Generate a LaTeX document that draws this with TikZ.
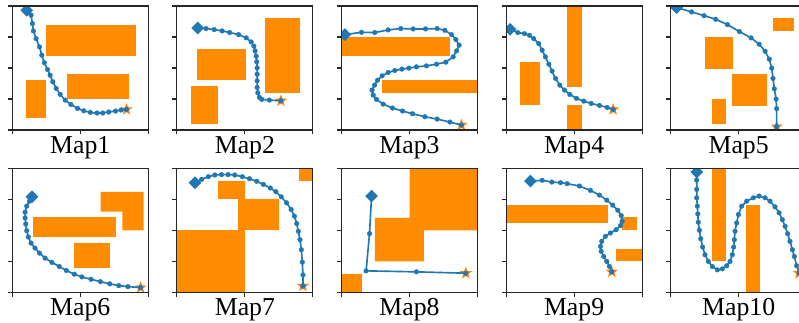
\documentclass[tikz,border=0pt]{standalone}
\usepackage{fontspec}
\setmainfont{Liberation Serif}
\usetikzlibrary{shapes.geometric}
\definecolor{pathblue}{RGB}{31,119,180}
\definecolor{goalorange}{RGB}{255,127,14}
\definecolor{obstorange}{RGB}{255,140,0}
\tikzset{
  obstacle/.style={fill=obstorange},
  traj/.style={pathblue, line width=1.4pt, mark=*, mark size=2pt, mark options={fill=pathblue, line width=0.3pt}},
  start/.style={diamond, fill=pathblue, inner sep=0pt, minimum size=11pt},
  goal/.style={star, star points=5, star point ratio=2.4, fill=goalorange, inner sep=0pt, minimum size=11pt},
  frame/.style={black!85, line width=1pt},
  maplabel/.style={anchor=base, font=\fontsize{22}{25}\selectfont},
  map/.style 2 args={shift={(#1,#2)}, x=0.408cm, y=0.372cm},
}

\begin{document}
\begin{tikzpicture}[x=0.03cm, y=0.03cm]
\path[use as bounding box, clip] (0,0) rectangle (799,322);

% Map1
\begin{scope}[map={12.3}{192}]
\clip (0,0) rectangle (10,10);
\fill[obstacle] (2.5,6) rectangle (9.1,8.5);
\fill[obstacle] (4,2.5) rectangle (8.6,4.5);
\fill[obstacle] (1,1) rectangle (2.5,4);
\node[goal] (goal1) at (8.4,1.66) {};
\draw[traj] plot coordinates {(1.06,9.65) (1.38,9.26) (1.48,8.58) (1.55,7.99) (1.75,7.37) (2.0,6.7) (2.17,6.03) (2.36,5.42) (2.59,4.88) (2.78,4.42) (2.98,3.89) (3.23,3.35) (3.52,2.87) (3.89,2.41) (4.31,2.06) (4.8,1.74) (5.25,1.55) (5.74,1.42) (6.23,1.37) (6.65,1.37) (7.09,1.45) (7.59,1.53) (8.0,1.61) (8.4,1.66)};
\node[start] (start1) at (1.06,9.65) {};
\end{scope}

% Map2
\begin{scope}[map={176.9}{192}]
\clip (0,0) rectangle (10,10);
\fill[obstacle] (6.5,3) rectangle (9.05,9.05);
\fill[obstacle] (1.5,4) rectangle (5.05,6.5);
\fill[obstacle] (1,0.5) rectangle (3,3.55);
\node[goal] (goal2) at (7.65,2.36) {};
\draw[traj] plot coordinates {(1.53,8.23) (2.14,8.18) (2.74,8.1) (3.33,7.99) (3.88,7.86) (4.54,7.69) (5.1,7.43) (5.46,7.1) (5.66,6.76) (5.75,6.38) (5.83,5.95) (5.87,5.5) (5.9,5.01) (5.9,4.5) (5.9,3.97) (5.9,3.43) (5.95,3.0) (6.07,2.63) (6.24,2.47) (6.8,2.41) (7.65,2.36)};
\node[start] (start2) at (1.53,8.23) {};
\end{scope}

% Map3
\begin{scope}[map={341.5}{192}]
\clip (0,0) rectangle (10,10);
\fill[obstacle] (0,6) rectangle (8,7.5);
\fill[obstacle] (3,3) rectangle (10,4);
\node[goal] (goal3) at (8.82,0.4) {};
\draw[traj] plot coordinates {(0.25,7.69) (1.47,7.88) (2.45,7.86) (3.43,8.07) (4.36,8.18) (5.27,8.15) (6.18,8.15) (7.03,8.18) (7.6,8.04) (8.09,7.69) (8.41,7.29) (8.65,6.84) (8.46,6.38) (8.21,5.9) (7.67,5.47) (6.99,5.31) (6.25,5.17) (5.51,5.09) (4.95,4.99) (4.44,4.91) (3.92,4.8) (3.43,4.64) (2.99,4.37) (2.65,4.02) (2.43,3.62) (2.25,3.22) (2.33,2.82) (2.57,2.47) (3.06,2.09) (3.75,1.77) (4.49,1.53) (5.22,1.31) (6.13,1.07) (7.03,0.88) (7.97,0.64) (8.82,0.4)};
\node[start] (start3) at (0.25,7.69) {};
\end{scope}

% Map4
\begin{scope}[map={506.1}{192}]
\clip (0,0) rectangle (10,10);
\fill[obstacle] (4.5,3.5) rectangle (5.55,10);
\fill[obstacle] (4.5,0) rectangle (5.55,2);
\fill[obstacle] (1,2) rectangle (2.5,5.5);
\node[goal] (goal4) at (7.87,1.66) {};
\draw[traj] plot coordinates {(0.29,8.12) (0.86,7.86) (1.35,7.77) (1.72,7.64) (2.03,7.37) (2.4,6.97) (2.65,6.43) (2.89,5.9) (3.14,5.31) (3.38,4.75) (3.63,4.16) (3.95,3.62) (4.29,3.22) (4.68,2.87) (5.17,2.55) (5.71,2.33) (6.25,2.14) (6.86,1.98) (7.43,1.82) (7.87,1.66)};
\node[start] (start4) at (0.29,8.12) {};
\end{scope}

% Map5
\begin{scope}[map={670.7}{192}]
\clip (0,0) rectangle (10,10);
\fill[obstacle] (2.5,4.9) rectangle (4.55,7.5);
\fill[obstacle] (4.5,1.95) rectangle (7.1,4.5);
\fill[obstacle] (3.05,0.5) rectangle (4.05,2.5);
\fill[obstacle] (7.55,8) rectangle (9.05,9);
\node[goal] (goal5) at (7.79,0.27) {};
\draw[traj] plot coordinates {(0.44,9.87) (1.54,9.52) (2.45,9.22) (3.31,8.93) (4.17,8.5) (5.05,7.94) (5.91,7.43) (6.5,6.92) (6.94,6.35) (7.25,5.71) (7.43,4.99) (7.52,4.16) (7.62,3.32) (7.75,2.49) (7.79,1.72) (7.79,0.27)};
\node[start] (start5) at (0.44,9.87) {};
\end{scope}

% Map6
\begin{scope}[map={12.3}{29.7}]
\clip (0,0) rectangle (10,10);
\fill[obstacle] (1.5,4.5) rectangle (7.65,6.05);
\fill[obstacle] (4.55,2) rectangle (7.15,4);
\fill[obstacle] (6.5,8.1) -- (9.65,8.1) -- (9.65,5) -- (8.1,5) -- (8.1,6.5) -- (6.5,6.5) -- cycle;
\node[goal] (goal6) at (9.43,0.38) {};
\draw[traj] plot coordinates {(1.45,7.7) (1.26,7.35) (1.06,6.95) (0.94,6.46) (0.94,6.0) (0.99,5.51) (1.06,4.97) (1.18,4.46) (1.38,3.97) (1.67,3.57) (2.0,3.16) (2.41,2.76) (2.91,2.41) (3.45,2.08) (3.97,1.76) (4.56,1.46) (5.12,1.24) (5.79,1.05) (6.48,0.86) (7.17,0.68) (7.83,0.54) (8.5,0.46) (9.43,0.38)};
\node[start] (start6) at (1.45,7.7) {};
\end{scope}

% Map7
\begin{scope}[map={176.9}{29.7}]
\clip (0,0) rectangle (10,10);
\fill[obstacle] (0,0) rectangle (5,5);
\fill[obstacle] (4.5,5) rectangle (7.5,7.5);
\fill[obstacle] (3,7.5) rectangle (5,9);
\fill[obstacle] (9,9) rectangle (10,10);
\node[goal] (goal7) at (9.27,0.51) {};
\draw[traj] plot coordinates {(1.33,8.84) (1.82,9.11) (2.31,9.32) (2.79,9.46) (3.28,9.49) (3.76,9.49) (4.25,9.46) (4.81,9.32) (5.34,9.16) (5.87,8.95) (6.36,8.7) (6.87,8.41) (7.28,8.11) (7.67,7.7) (8.06,7.22) (8.4,6.68) (8.64,6.14) (8.81,5.54) (8.93,4.92) (9.05,4.24) (9.15,3.43) (9.22,2.43) (9.27,1.41) (9.27,0.51)};
\node[start] (start7) at (1.33,8.84) {};
\end{scope}

% Map8
\begin{scope}[map={341.5}{29.7}]
\clip (0,0) rectangle (10,10);
\fill[obstacle] (5,10) -- (10,10) -- (10,5) -- (6.05,5) -- (6.05,2.5) -- (2.45,2.5) -- (2.45,6) -- (5,6) -- cycle;
\fill[obstacle] (0,0) rectangle (1.5,1.5);
\node[goal] (goal8) at (9.14,1.54) {};
\draw[traj] plot coordinates {(2.21,7.76) (2.06,4.73) (1.81,1.73) (5.51,1.65) (9.14,1.54)};
\node[start] (start8) at (2.21,7.76) {};
\end{scope}

% Map9
\begin{scope}[map={506.1}{29.7}]
\clip (0,0) rectangle (10,10);
\fill[obstacle] (0,5.55) rectangle (7.5,7.05);
\fill[obstacle] (8.55,5) rectangle (9.6,6.05);
\fill[obstacle] (8.05,2.5) rectangle (10,3.5);
\node[goal] (goal9) at (7.77,1.65) {};
\draw[traj] plot coordinates {(1.79,8.97) (2.65,9.03) (3.36,8.89) (4.0,8.84) (4.49,8.76) (5.39,8.57) (6.2,8.22) (6.86,7.84) (7.4,7.43) (7.84,7.03) (8.21,6.62) (8.46,6.19) (8.53,5.73) (8.41,5.38) (8.09,5.05) (7.67,4.78) (7.3,4.51) (7.03,4.11) (6.94,3.7) (6.99,3.3) (7.18,2.89) (7.4,2.49) (7.6,2.08) (7.77,1.65)};
\node[start] (start9) at (1.79,8.97) {};
\end{scope}

% Map10
\begin{scope}[map={670.7}{29.7}]
\clip (0,0) rectangle (10,10);
\fill[obstacle] (3.05,2.5) rectangle (4.05,10);
\fill[obstacle] (5.55,0) rectangle (6.55,7.05);
\node[goal] (goal10) at (9.44,1.54) {};
\draw[traj] plot coordinates {(1.91,9.7) (1.91,9.05) (1.91,8.3) (1.91,7.62) (1.96,6.95) (1.99,6.32) (2.03,5.65) (2.11,5.0) (2.21,4.32) (2.35,3.65) (2.52,3.03) (2.77,2.49) (3.06,2.08) (3.43,1.81) (3.8,1.89) (4.12,2.14) (4.36,2.49) (4.53,3.03) (4.63,3.65) (4.68,4.24) (4.73,4.92) (4.85,5.59) (4.98,6.27) (5.22,6.95) (5.59,7.35) (6.08,7.62) (6.5,7.76) (6.94,7.62) (7.3,7.35) (7.67,6.89) (7.97,6.41) (8.21,5.86) (8.41,5.32) (8.6,4.73) (8.77,4.11) (8.95,3.43) (9.09,2.89) (9.26,2.14) (9.44,1.54)};
\node[start] (start10) at (1.91,9.7) {};
\end{scope}

% frames, ticks and titles
\foreach \px/\py/\n in {12.3/192/1, 176.9/192/2, 341.5/192/3, 506.1/192/4, 670.7/192/5,
                        12.3/29.7/6, 176.9/29.7/7, 341.5/29.7/8, 506.1/29.7/9, 670.7/29.7/10}{
  \begin{scope}[map={\px}{\py}]
  \draw[frame] (0,0) rectangle (10,10);
  \foreach \t in {0,2.5,...,10} \draw[frame] (0,\t) -- ++(-0.33,0);
  \foreach \t in {0,5,10} \draw[frame] (\t,0) -- ++(0,-0.36);
  \node[maplabel] (title\n) at (5,-1.9) {Map\n};
  \end{scope}
}
\end{tikzpicture}
\end{document}
